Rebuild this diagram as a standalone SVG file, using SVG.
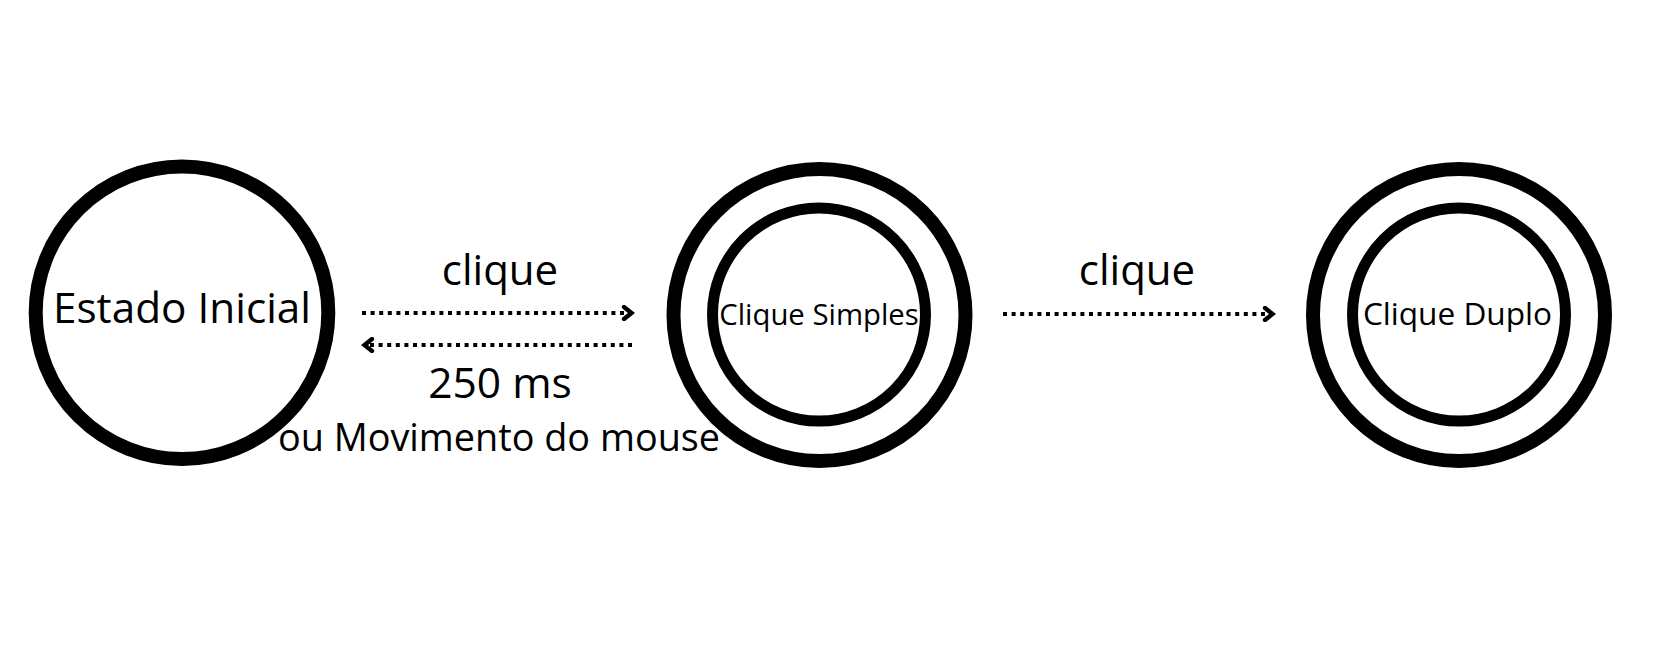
<svg xmlns="http://www.w3.org/2000/svg" width="1655" height="645" viewBox="0 0 1655 645">
  <style>
    .ring { fill: none; stroke: #000; }
    .outer { stroke-width: 14; }
    .inner { stroke-width: 11; }
    .lbl { font-family: "Open Sans", "Noto Sans", "Liberation Sans", sans-serif; fill: #000; text-anchor: middle; }
    .edge { stroke: #000; stroke-width: 4.2; stroke-dasharray: 4 4.6; fill: none; }
  </style>
  <defs>
    <marker id="chev" viewBox="0 0 14 16" refX="11" refY="8" markerWidth="14" markerHeight="16" markerUnits="userSpaceOnUse" orient="auto">
      <path d="M3,2 L10.5,8 L3,14" fill="none" stroke="#000" stroke-width="4.4" stroke-linecap="round" stroke-linejoin="miter"/>
    </marker>
  </defs>
  <rect width="1655" height="645" fill="#fff"/>

  <g id="estado-inicial">
    <circle class="ring outer" cx="182" cy="312.7" r="146.3"/>
    <text class="lbl" x="182" y="323" font-size="42.3">Estado Inicial</text>
  </g>

  <g id="clique-simples">
    <circle class="ring outer" cx="819.5" cy="315" r="146"/>
    <circle class="ring inner" cx="819" cy="314.5" r="106.5"/>
    <text class="lbl" x="819" y="325" font-size="29.3">Clique Simples</text>
  </g>

  <g id="clique-duplo">
    <circle class="ring outer" cx="1459" cy="315" r="146"/>
    <circle class="ring inner" cx="1459" cy="314.5" r="106.5"/>
    <text class="lbl" x="1457.5" y="325" font-size="31.6">Clique Duplo</text>
  </g>

  <g id="connectors">
    <line class="edge" x1="362" y1="313" x2="632" y2="313" marker-end="url(#chev)"/>
    <line class="edge" x1="632" y1="345" x2="364" y2="345" marker-end="url(#chev)"/>
    <line class="edge" x1="1003" y1="314" x2="1273" y2="314" marker-end="url(#chev)"/>
    <text class="lbl" x="500" y="285" font-size="42">clique</text>
    <text class="lbl" x="500" y="398" font-size="42.5">250 ms</text>
    <text class="lbl" x="499" y="451" font-size="37.8">ou Movimento do mouse</text>
    <text class="lbl" x="1137" y="285" font-size="42">clique</text>
  </g>
</svg>
